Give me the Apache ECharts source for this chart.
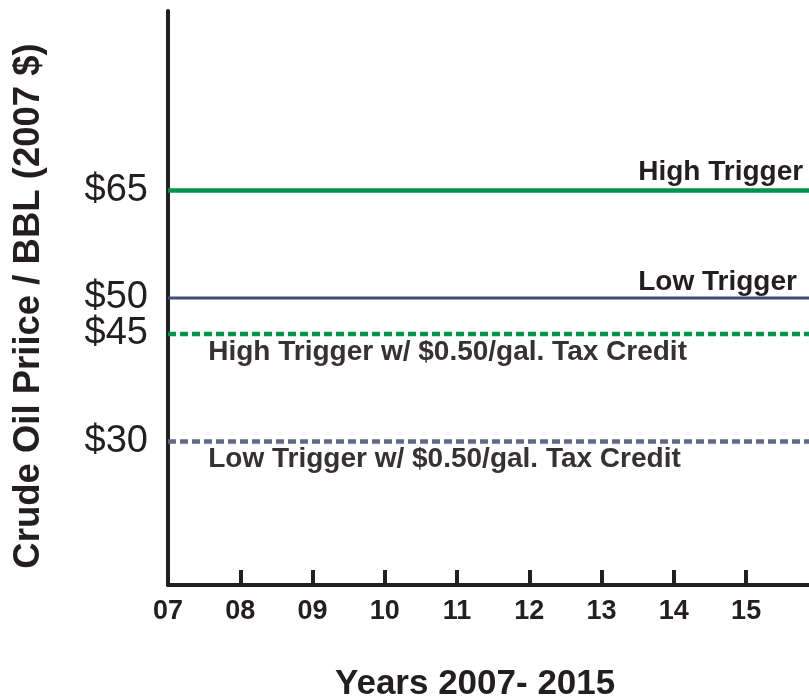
<!DOCTYPE html>
<html>
<head>
<meta charset="utf-8">
<script src="https://cdn.jsdelivr.net/npm/echarts@6/dist/echarts.min.js"></script>
<style>
  html, body { margin: 0; padding: 0; background: #fff; }
  #chart { width: 809px; height: 697px; }
</style>
</head>
<body>
<div id="chart"></div>
<script>
// years on the x axis (07 .. 15), values are year offsets
const yearTicks = [7, 8, 9, 10, 11, 12, 13, 14, 15];
const yearLabels = ['07', '08', '09', '10', '11', '12', '13', '14', '15'];

// price levels shown on the y axis
const priceLevels = [65, 50, 45, 30];

// trigger lines
const triggerNames = [
	'High Trigger',
	'Low Trigger',
	'High Trigger w/ $0.50/gal. Tax Credit',
	'Low Trigger w/ $0.50/gal. Tax Credit'
];
const triggerPrices = [65, 50, 45, 30];

const FONT = "'Liberation Sans', Arial, Helvetica, sans-serif";
const INK = '#231f20';

// axis cut off just before 2016 at the right edge
const xMin = 7, xMax = 15.87;

const styles = [
	{ color: '#00934a', width: 4.5, type: 'solid', labelX: 13.5, dy: -18, text: INK },
	{ color: '#404c7a', width: 3, type: 'solid', labelX: 13.5, dy: -16, text: INK },
	{ color: '#00934a', width: 4.5, type: [8, 4], labelX: 7.55, dy: 18, text: '#363232' },
	{ color: '#5e6b88', width: 4.5, type: [8, 4], labelX: 7.55, dy: 18, text: '#363232' }
];

const chart = echarts.init(document.getElementById('chart'));

const series = [];
triggerNames.forEach((name, i) => {
	const s = styles[i];
	series.push({
		type: 'line',
		name: name,
		data: [[xMin, triggerPrices[i]], [xMax, triggerPrices[i]]],
		showSymbol: false,
		silent: true,
		lineStyle: { color: s.color, width: s.width, type: s.type },
		z: 3
	});
	// label anchor (tiny point in the line colour, only carries the text)
	series.push({
		type: 'scatter',
		data: [[s.labelX, triggerPrices[i]]],
		symbolSize: 1,
		itemStyle: { color: s.color, opacity: 1 },
		silent: true,
		label: {
			show: true,
			position: 'right',
			distance: 0,
			offset: [0, s.dy],
			formatter: () => name,
			color: s.text,
			opacity: 1,
			textBorderWidth: 0,
			fontFamily: FONT,
			fontWeight: 'bold',
			fontSize: 28
		},
		z: 2
	});
});

chart.setOption({
	animation: false,
	title: {
		text: 'Years 2007- 2015',
		left: 330,
		top: 662,
		textStyle: { fontFamily: FONT, fontWeight: 'bold', fontSize: 35, color: INK }
	},
	grid: { left: 168, top: 11, right: 0, height: 574 },
	xAxis: {
		type: 'value',
		min: xMin,
		max: xMax,
		interval: 1,
		axisLine: { onZero: false, lineStyle: { color: INK, width: 4 } },
		axisTick: { inside: true, length: 15, customValues: yearTicks, lineStyle: { color: INK, width: 4 } },
		splitLine: { show: false },
		axisLabel: {
			margin: 13,
			color: INK,
			fontFamily: FONT,
			fontWeight: 'bold',
			fontSize: 27,
			customValues: yearTicks,
			formatter: (v) => {
				const idx = yearTicks.indexOf(v);
				return idx >= 0 ? yearLabels[idx] : '';
			}
		}
	},
	yAxis: {
		type: 'value',
		min: 10,
		max: 90,
		interval: 5,
		name: 'Crude Oil Priice / BBL (2007 $)',
		nameLocation: 'middle',
		nameRotate: 90,
		nameGap: 121,
		nameTextStyle: { fontFamily: FONT, fontWeight: 'bold', fontSize: 36.5, color: INK, padding: [0, 16, 0, 0] },
		axisLine: { show: true, lineStyle: { color: INK, width: 4 } },
		axisTick: { show: false },
		splitLine: { show: false },
		axisLabel: {
			margin: 20,
			color: INK,
			fontFamily: FONT,
			fontSize: 38,
			formatter: (v) => (priceLevels.indexOf(v) >= 0 ? '$' + v : '')
		}
	},
	series: series
});
</script>
</body>
</html>
